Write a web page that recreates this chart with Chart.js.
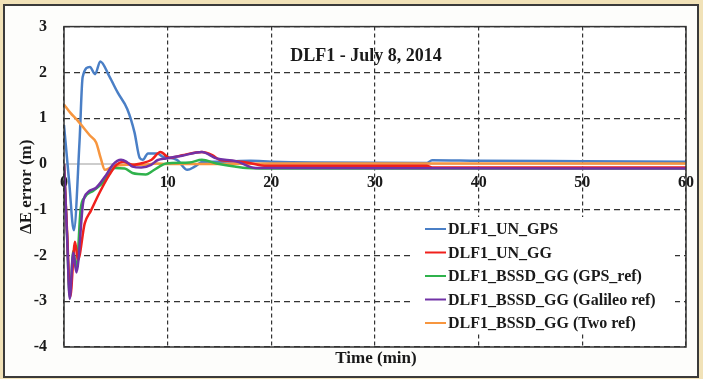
<!DOCTYPE html>
<html>
<head>
<meta charset="utf-8">
<script src="https://cdn.jsdelivr.net/npm/chart.js@4"></script>
<style>
  html, body { margin: 0; padding: 0; background: #f1e2b8; }
  #wrap { width: 703px; height: 379px; position: relative; }
</style>
</head>
<body>
<div id="wrap"><canvas id="errChart" width="703" height="379"></canvas></div>
<script>
'use strict';

// ── Data (time in min, ΔE error in m) ──────────────────────────────────────
const SERIES_NAMES = [
  'DLF1_UN_GPS',
  'DLF1_UN_GG',
  'DLF1_BSSD_GG (GPS_ref)',
  'DLF1_BSSD_GG (Galileo ref)',
  'DLF1_BSSD_GG (Two ref)',
];

const unGpsT = [0, 0.5, 0.95, 1.5, 1.8, 2.5, 3.0, 3.5, 4.4, 5.2, 6.1, 6.8, 7.3, 7.6, 8.1, 9.0, 9.5, 10.9, 11.9, 12.6, 13.4, 15, 18, 20, 24, 35, 35.5, 40, 50, 60];
const unGpsV = [0.85, -0.4, -1.45, 0.5, 1.9, 2.12, 1.96, 2.24, 1.9, 1.55, 1.2, 0.69, 0.13, 0.09, 0.23, 0.23, 0.16, 0.09, -0.13, -0.06, 0.05, 0.05, 0.07, 0.05, 0.03, 0.02, 0.08, 0.07, 0.06, 0.05];

const unGgT = [0, 0.3, 0.6, 1.06, 1.34, 2.0, 2.6, 3.45, 4.4, 5.05, 5.7, 6.6, 7.6, 8.45, 9.3, 10.2, 11.4, 13.3, 14.3, 15, 16.6, 17.9, 19.5, 30, 35, 35.5, 60];
const unGgV = [0, -1.5, -2.9, -1.7, -2.1, -1.3, -1.02, -0.62, -0.23, -0.02, 0.05, -0.02, 0.02, 0.09, 0.26, 0.13, 0.19, 0.26, 0.19, 0.09, 0.06, 0.02, -0.04, -0.04, -0.04, -0.08, -0.08];

const gpsRefT = [0, 0.3, 0.55, 0.9, 1.2, 1.6, 2.0, 2.8, 3.75, 4.4, 4.9, 5.85, 6.6, 7.9, 8.5, 9.2, 9.85, 12.1, 13.3, 14.7, 16.6, 17.6, 19, 60];
const gpsRefV = [0, -1.6, -2.9, -1.9, -2.3, -1.0, -0.73, -0.59, -0.41, -0.2, -0.09, -0.1, -0.2, -0.23, -0.16, -0.06, 0.01, 0.03, 0.09, 0.01, -0.06, -0.09, -0.1, -0.1];

const galRefT = [0, 0.3, 0.55, 0.9, 1.2, 1.85, 2.3, 3.1, 4.1, 4.7, 5.5, 6.0, 6.6, 7.45, 8.4, 9.0, 9.85, 11.4, 13.3, 14.7, 16.6, 18.5, 60];
const galRefV = [0, -1.6, -2.95, -1.94, -2.37, -0.84, -0.62, -0.52, -0.23, -0.02, 0.09, 0.05, -0.06, -0.08, -0.02, 0.08, 0.12, 0.18, 0.26, 0.12, 0.06, -0.09, -0.1];

const twoRefT = [0, 0.6, 1.3, 2.5, 3.1, 3.55, 3.95, 4.7, 6.0, 7.6, 8.9, 10, 15, 20, 60];
const twoRefV = [1.3, 1.12, 0.95, 0.62, 0.47, 0.12, -0.13, -0.06, -0.02, -0.02, 0.01, 0.0, 0.0, 0.01, 0.01];

const X_TICKS = [0, 10, 20, 30, 40, 50, 60];
const Y_TICKS = [3, 2, 1, 0, -1, -2, -3, -4];

const COLORS = ['#4a7fc6', '#f0201c', '#2fb24c', '#7132a6', '#f7963f'];
const SERIF = "'Liberation Serif', 'Times New Roman', serif";

const toPts = (t, v) => t.map((x, i) => ({ x, y: v[i] }));

// ── Plugins: page frame, chart frame, zero line, inner title, legend ──────
const framePlugin = {
  id: 'frame',
  beforeDraw(chart) {
    const { ctx } = chart;
    ctx.save();
    ctx.fillStyle = '#f1e2b8';
    ctx.fillRect(0, 0, chart.width, chart.height);
    ctx.fillStyle = '#fdfdfb';
    ctx.fillRect(4, 5, 694, 372);
    ctx.strokeStyle = '#3a3a3a';
    ctx.lineWidth = 2;
    ctx.strokeRect(4, 5, 694, 372);
    const a = chart.chartArea;
    ctx.fillStyle = '#ffffff';
    ctx.fillRect(a.left, a.top, a.right - a.left, a.bottom - a.top);
    ctx.restore();
  },
  beforeDatasetsDraw(chart) {
    const { ctx } = chart;
    const a = chart.chartArea;
    const y0 = chart.scales.y.getPixelForValue(0);
    ctx.save();
    ctx.strokeStyle = '#bdbdbd';
    ctx.lineWidth = 1.5;
    ctx.beginPath();
    ctx.moveTo(a.left, y0);
    ctx.lineTo(a.right, y0);
    ctx.stroke();
    ctx.restore();
  },
  afterDatasetsDraw(chart) {
    const { ctx } = chart;
    const a = chart.chartArea;
    ctx.save();
    // legend box
    const lx = 413, ly = 217, lw = 262, lh = 117;
    ctx.fillStyle = '#ffffff';
    ctx.fillRect(lx, ly, lw, lh);
    ctx.font = 'bold 16px ' + SERIF;
    ctx.textBaseline = 'middle';
    ctx.textAlign = 'left';
    chart.data.datasets.forEach((ds, i) => {
      const y = 229 + i * 23.5;
      ctx.strokeStyle = ds.borderColor;
      ctx.lineWidth = 2;
      ctx.beginPath();
      ctx.moveTo(425, y);
      ctx.lineTo(446, y);
      ctx.stroke();
      ctx.fillStyle = '#1a1a1a';
      ctx.fillText(ds.label, 448, y + 1);
    });
    // chart frame
    ctx.strokeStyle = '#333333';
    ctx.lineWidth = 1.5;
    ctx.strokeRect(a.left, a.top, a.right - a.left, a.bottom - a.top);
    // inner title
    ctx.fillStyle = '#1a1a1a';
    ctx.font = 'bold 18px ' + SERIF;
    ctx.textAlign = 'center';
    ctx.fillText('DLF1 - July 8, 2014', 366, 56);
    // bottom axis title
    ctx.font = 'bold 17px ' + SERIF;
    ctx.fillText('Time (min)', 376, 359);
    ctx.restore();
  },
};

const ctx = document.getElementById('errChart').getContext('2d');

new Chart(ctx, {
  type: 'line',
  data: {
    datasets: [
      { label: SERIES_NAMES[0], data: toPts(unGpsT, unGpsV), borderColor: COLORS[0], order: 5 },
      { label: SERIES_NAMES[1], data: toPts(unGgT, unGgV), borderColor: COLORS[1], order: 2 },
      { label: SERIES_NAMES[2], data: toPts(gpsRefT, gpsRefV), borderColor: COLORS[2], order: 3 },
      { label: SERIES_NAMES[3], data: toPts(galRefT, galRefV), borderColor: COLORS[3], order: 1 },
      { label: SERIES_NAMES[4], data: toPts(twoRefT, twoRefV), borderColor: COLORS[4], order: 4 },
    ].map(ds => ({
      ...ds,
      borderWidth: 2.5,
      pointRadius: 0,
      fill: false,
      cubicInterpolationMode: 'monotone',
    })),
  },
  options: {
    responsive: false,
    animation: false,
    events: [],
    layout: { padding: { left: 0, top: 19, right: 14, bottom: 32 } },
    plugins: {
      legend: { display: false },
      tooltip: { enabled: false },
    },
    scales: {
      x: {
        type: 'linear',
        position: { y: 0 },
        min: 0,
        max: 60,
        afterBuildTicks: (s) => { s.ticks = X_TICKS.map(v => ({ value: v })); },
        grid: { color: '#333333', lineWidth: 1.2, drawTicks: false },
        border: { display: false, dash: [4, 3] },
        ticks: {
          color: '#1a1a1a',
          padding: 9,
          maxRotation: 0,
          font: { family: SERIF, size: 16, weight: 'bold' },
        },
      },
      y: {
        min: -4,
        max: 3,
        afterBuildTicks: (s) => { s.ticks = Y_TICKS.map(v => ({ value: v })); },
        afterFit: (s) => { s.width = 64; },
        grid: {
          color: (c) => (c.tick && c.tick.value === 0 ? 'rgba(0,0,0,0)' : '#333333'),
          lineWidth: 1.2,
          drawTicks: false,
        },
        border: { display: false, dash: [6, 4] },
        ticks: {
          color: '#1a1a1a',
          padding: 17,
          font: { family: SERIF, size: 16, weight: 'bold' },
        },
        title: {
          display: true,
          text: 'ΔE error (m)',
          color: '#1a1a1a',
          padding: { top: 16, bottom: 0 },
          font: { family: SERIF, size: 17, weight: 'bold' },
        },
      },
    },
  },
  plugins: [framePlugin],
});
</script>
</body>
</html>
